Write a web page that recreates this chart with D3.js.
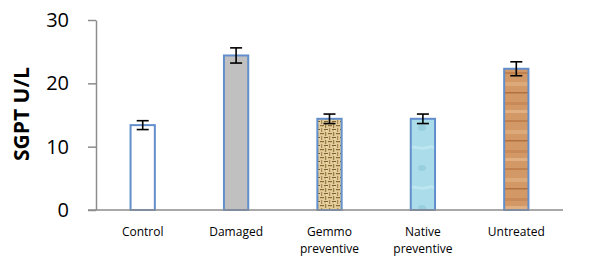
<!DOCTYPE html>
<html>
<head>
<meta charset="utf-8">
<script src="https://d3js.org/d3.v7.min.js"></script>
<style>
  body { margin: 0; background: #fff; }
  .tick text { font-family: "Open Sans", "Noto Sans", sans-serif; }
</style>
</head>
<body>
<script>
  var categories = ["Control", "Damaged", "Gemmo\npreventive", "Native\npreventive", "Untreated"];
  var values = [13.4, 24.4, 14.4, 14.4, 22.3];
  var errors = [0.7, 1.2, 0.75, 0.75, 1.1];
  var yTicks = [0, 10, 20, 30];

  var margin = {top: 20, right: 31, bottom: 48, left: 96},
      width = 594 - margin.left - margin.right,
      height = 258 - margin.top - margin.bottom;

  var svgRoot = d3.select("body").append("svg")
      .attr("width", 594)
      .attr("height", 258);

  // fill textures
  var defs = svgRoot.append("defs");

  var gemmo = defs.append("pattern").attr("id", "gemmo")
      .attr("patternUnits", "userSpaceOnUse").attr("width", 8).attr("height", 8);
  gemmo.append("rect").attr("width", 8).attr("height", 8).attr("fill", "#e2cc98");
  gemmo.append("rect").attr("x", 0).attr("y", 1).attr("width", 4).attr("height", 1.2).attr("fill", "#8a6a3a");
  gemmo.append("rect").attr("x", 5).attr("y", 0).attr("width", 1.2).attr("height", 4).attr("fill", "#9a7a48");
  gemmo.append("rect").attr("x", 4).attr("y", 5).attr("width", 4).attr("height", 1.2).attr("fill", "#7e6034");
  gemmo.append("rect").attr("x", 1).attr("y", 4).attr("width", 1.2).attr("height", 4).attr("fill", "#a8875a");
  gemmo.append("rect").attr("x", 6).attr("y", 6).attr("width", 1.5).attr("height", 1.5).attr("fill", "#f3e3b8");

  var native = defs.append("pattern").attr("id", "native")
      .attr("patternUnits", "userSpaceOnUse").attr("width", 24).attr("height", 40);
  native.append("rect").attr("width", 24).attr("height", 40).attr("fill", "#aadcea");
  native.append("path").attr("d", "M0,8 C6,4 12,12 24,6").attr("stroke", "#bde6f0").attr("stroke-width", 3).attr("fill", "none");
  native.append("ellipse").attr("cx", 14).attr("cy", 28).attr("rx", 4).attr("ry", 3).attr("fill", "#97cfdf");

  var wood = defs.append("pattern").attr("id", "wood")
      .attr("patternUnits", "userSpaceOnUse").attr("width", 24).attr("height", 48);
  wood.append("rect").attr("width", 24).attr("height", 48).attr("fill", "#d29866");
  wood.append("rect").attr("y", 4).attr("width", 24).attr("height", 2).attr("fill", "#c0814f");
  wood.append("rect").attr("y", 14).attr("width", 24).attr("height", 4).attr("fill", "#dcaa7a");
  wood.append("rect").attr("y", 24).attr("width", 24).attr("height", 1.5).attr("fill", "#b0703f");
  wood.append("rect").attr("y", 34).attr("width", 24).attr("height", 3).attr("fill", "#c88a58");
  wood.append("rect").attr("y", 42).attr("width", 24).attr("height", 3).attr("fill", "#e0b082");

  var fills = ["#ffffff", "#c0c0c0", "url(#gemmo)", "url(#native)", "url(#wood)"];

  var svg = svgRoot.append("g")
      .attr("transform", "translate(" + margin.left + "," + margin.top + ")");

  var x = d3.scaleBand().domain(categories).range([0, width])
      .paddingInner(0.74).paddingOuter(0.37);
  var y = d3.scaleLinear().domain([0, 30]).range([height, 0]);

  // y axis
  var yAxis = svg.append("g")
      .call(d3.axisLeft(y).tickValues(yTicks).tickSize(8).tickPadding(19).tickSizeOuter(0));
  yAxis.select(".domain").attr("stroke", "#8c8c8c").attr("stroke-width", 1.5);
  yAxis.selectAll(".tick line").attr("stroke", "#8c8c8c").attr("stroke-width", 1.5);
  yAxis.selectAll(".tick text").attr("font-size", 20).attr("fill", "#000");

  // bars
  svg.selectAll(".bar")
    .data(values)
    .enter().append("rect")
      .attr("class", "bar")
      .attr("x", function(d, i) { return x(categories[i]); })
      .attr("width", x.bandwidth())
      .attr("y", function(d) { return y(d); })
      .attr("height", function(d) { return height - y(d); })
      .attr("fill", function(d, i) { return fills[i]; })
      .attr("stroke", "#628fcc")
      .attr("stroke-width", 2);

  // x axis (drawn over bar bottoms)
  var xAxis = svg.append("g")
      .attr("transform", "translate(0," + height + ")")
      .call(d3.axisBottom(x).tickSize(0).tickSizeOuter(0).tickFormat(""));
  xAxis.select(".domain").attr("stroke", "#8c8c8c").attr("stroke-width", 1.5)
      .attr("d", "M-8,0H" + width);

  // category labels, two lines where needed
  xAxis.selectAll(".tick").each(function(d) {
    var t = d3.select(this).append("text")
        .attr("fill", "#000")
        .attr("font-size", 12)
        .attr("font-family", "'Open Sans', 'Noto Sans', sans-serif")
        .attr("text-anchor", "middle")
        .attr("y", 26);
    d.split("\n").forEach(function(line, k) {
      t.append("tspan").attr("x", 0).attr("dy", k === 0 ? 0 : 17).text(line);
    });
  });

  // error bars
  var eb = svg.selectAll(".err")
    .data(values)
    .enter().append("g")
      .attr("class", "err")
      .attr("transform", function(d, i) { return "translate(" + (x(categories[i]) + x.bandwidth() / 2) + ",0)"; })
      .attr("stroke", "#000")
      .attr("stroke-width", 1.6);
  eb.append("line")
      .attr("y1", function(d, i) { return y(d + errors[i]); })
      .attr("y2", function(d, i) { return y(d - errors[i]); });
  eb.append("line").attr("x1", -6).attr("x2", 6)
      .attr("y1", function(d, i) { return y(d + errors[i]); })
      .attr("y2", function(d, i) { return y(d + errors[i]); });
  eb.append("line").attr("x1", -6).attr("x2", 6)
      .attr("y1", function(d, i) { return y(d - errors[i]); })
      .attr("y2", function(d, i) { return y(d - errors[i]); });

  // y axis title
  svgRoot.append("text")
      .attr("transform", "translate(29," + (margin.top + height / 2 - 1) + ") rotate(-90)")
      .attr("text-anchor", "middle")
      .attr("font-family", "'Open Sans', 'Noto Sans', sans-serif")
      .attr("font-weight", "bold")
      .attr("font-size", 21)
      .attr("fill", "#000")
      .text("SGPT U/L");
</script>
</body>
</html>
